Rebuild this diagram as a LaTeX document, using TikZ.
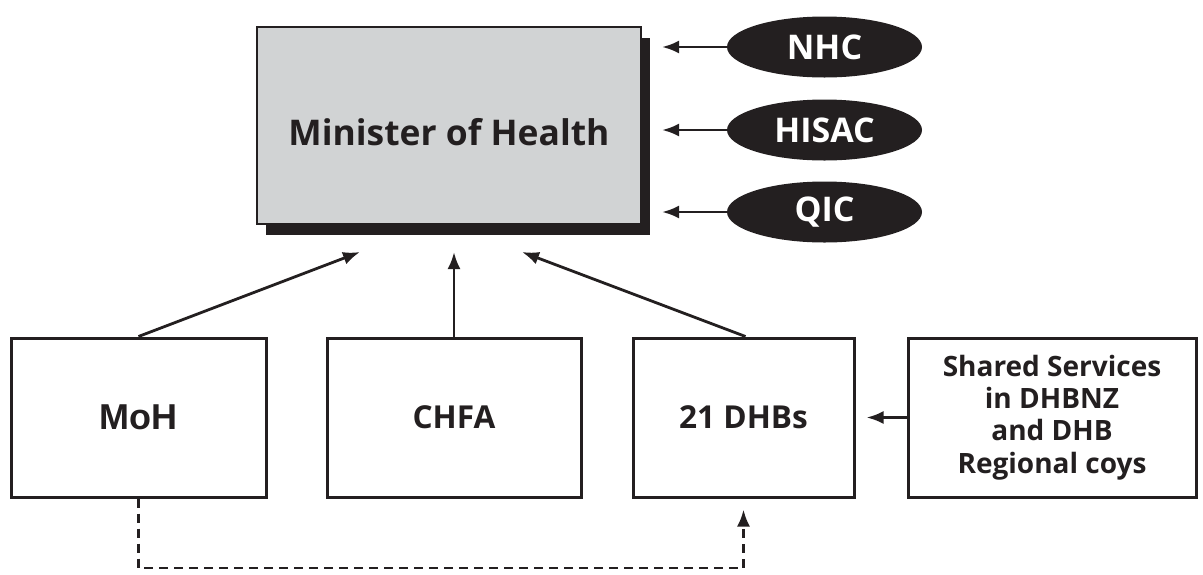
\documentclass[tikz,border=0pt]{standalone}
\usepackage{fontspec}
\setmainfont{Open Sans}
\newfontfamily\mohfont{Liberation Sans}
\usetikzlibrary{positioning}
\usetikzlibrary{shapes.geometric}
\usetikzlibrary{arrows.meta}
\usetikzlibrary{shadows}
\definecolor{ink}{RGB}{35,31,32}
\definecolor{panel}{RGB}{209,211,212}

\begin{document}
\begin{tikzpicture}[
        x = 0.5pt, y = -0.5pt,
        box/.style = {
            draw = ink,
            rectangle,
            line width = 1.5pt,
            inner sep = 0pt,
            minimum width = #1,
            minimum height = 79.5pt,
            align = center,
            text = ink,
            font = \bfseries\fontsize{15.8}{18}\selectfont
        },
        box/.default = 127.5pt,
        council/.style = {
            ellipse,
            fill = ink,
            text = white,
            minimum width = 97.5pt,
            minimum height = 30.5pt,
            inner sep = 0pt,
            font = \bfseries\fontsize{17}{18}\selectfont
        },
        link/.style = {
            draw = ink,
            line width = 1.4pt,
            -{Latex[length=8.5pt, width=6.5pt]}
        }
        ]
        \useasboundingbox (0,0) rectangle (1203,574);
%
        \node[box, minimum width = 192pt, minimum height = 98.5pt, fill = panel,
              line width = 1pt, text height = 19.5pt, text depth = 0pt,
              drop shadow = {shadow xshift = 4.5pt, shadow yshift = -5.5pt,
                             opacity = 1, fill = ink},
              font = \bfseries\fontsize{17.7}{20}\selectfont] (minister) at (449,125.5) {Minister of Health};
%
        \node[council] (nhc) at (824.5,47) {NHC};
        \node[council] (hisac) at (824.5,130) {HISAC};
        \node[council] (qic) at (824.5,212) {QIC};
%
        \coordinate (nhc in) at (662,47);
        \coordinate (hisac in) at (662,130);
        \coordinate (qic in) at (662,212);
%
        \node[box, font = \mohfont\bfseries\fontsize{18}{20}\selectfont] (moh) at (138.5,417.5) {MoH};
        \node[box = 127pt, right = 29pt of moh] (chfa) {CHFA};
        \node[box = 110.5pt, right = 24.5pt of chfa] (dhbs) {21 DHBs};
        \node[box = 144pt, right = 25.5pt of dhbs,
              font = \bfseries\fontsize{14}{16.2}\selectfont] (shared) {Shared Services\\in DHBNZ\\and DHB\\Regional coys};
%
        \coordinate (moh in) at (360,252);
        \coordinate (chfa in) at (453,252);
        \coordinate (dhbs in) at (522,252);
        \coordinate (low) at (138.5,568);
%
        \draw[link] (nhc.west) -- (nhc in);
        \draw[link] (hisac.west) -- (hisac in);
        \draw[link] (qic.west) -- (qic in);
%
        \draw[link] (moh.north) -- (moh in);
        \draw[link] (chfa.north) -- (chfa.north |- chfa in);
        \draw[link] ([xshift=1pt]dhbs.north) -- (dhbs in);
%
        \draw[link] (shared.west) -- ([xshift=5.5pt]dhbs.east);
        \draw[link, dash pattern = on 4.5pt off 3pt] (moh.south) -- (low) -| ([yshift=-5.5pt]dhbs.south);
    \end{tikzpicture}
\end{document}
